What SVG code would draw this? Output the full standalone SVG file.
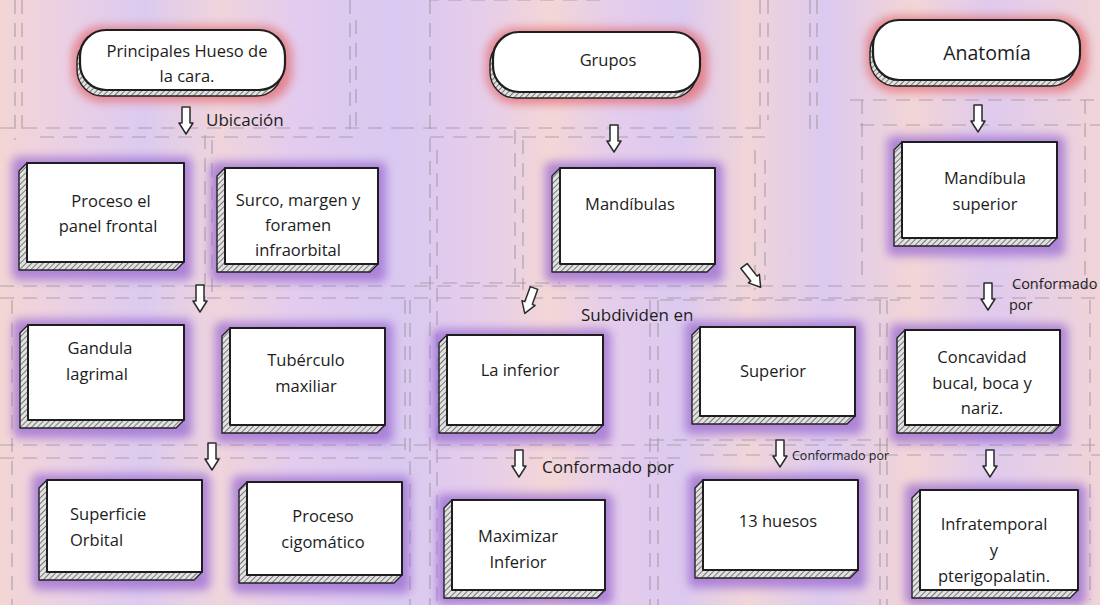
<svg xmlns="http://www.w3.org/2000/svg" xmlns:xlink="http://www.w3.org/1999/xlink" width="1100" height="605" viewBox="0 0 1100 605">
<defs>
<linearGradient id="bg" x1="0" y1="0" x2="1" y2="0">
<stop offset="0" stop-color="#f3d5d4"/>
<stop offset="0.07" stop-color="#e9cfe6"/>
<stop offset="0.13" stop-color="#dccaef"/>
<stop offset="0.2" stop-color="#efd4dc"/>
<stop offset="0.27" stop-color="#e2cbee"/>
<stop offset="0.36" stop-color="#d9c8f0"/>
<stop offset="0.44" stop-color="#e6cdea"/>
<stop offset="0.5" stop-color="#f3d6d6"/>
<stop offset="0.56" stop-color="#e4ccec"/>
<stop offset="0.62" stop-color="#dcc9ef"/>
<stop offset="0.68" stop-color="#f1d5d8"/>
<stop offset="0.75" stop-color="#dcc9ef"/>
<stop offset="0.83" stop-color="#f2d5d6"/>
<stop offset="0.9" stop-color="#dfcaee"/>
<stop offset="1" stop-color="#f0d4d8"/>
</linearGradient>
<pattern id="hatch" patternUnits="userSpaceOnUse" width="4" height="4" patternTransform="rotate(45)">
<rect width="4" height="4" fill="#e2e2e2"/>
<line x1="0" y1="0" x2="0" y2="4" stroke="#555" stroke-width="1.5"/>
</pattern>
<filter id="blur" x="-20%" y="-20%" width="140%" height="140%">
<feGaussianBlur stdDeviation="5"/>
</filter>
<path id="arr" d="M-4,0 L4,0 L4,16 L7,16 L0,27 L-7,16 L-4,16 Z"/>
<style>
.dash{stroke:#948f9a;stroke-width:1.2;stroke-dasharray:14 9;fill:none;opacity:0.7}
.glowP{fill:#9a6ad2;filter:url(#blur);opacity:0.75}
.glowR{fill:#e2666a;filter:url(#blur);opacity:0.7}
.hatch{fill:url(#hatch);stroke:#222;stroke-width:1.4;stroke-linejoin:round}
.face{fill:#ffffff;stroke:#1e1e1e;stroke-width:2;stroke-linejoin:round}
.pill{fill:#ffffff;stroke:#1e1e1e;stroke-width:2.2}
.lbl{font-family:"Open Sans","Lato","Liberation Sans",sans-serif;font-size:16.5px;fill:#1c1c1c;text-anchor:middle}
.lbl2{font-family:"Open Sans","Lato","Liberation Sans",sans-serif;font-size:16.5px;fill:#1c1c1c}
.arrow{fill:#ffffff;stroke:#2a2a2a;stroke-width:1.5;stroke-linejoin:round}
</style>
</defs>
<rect width="1100" height="605" fill="url(#bg)"/>
<g id="grid">
<path class="dash" d="M0,128 H400 M40,137 H360 M430,137 H765 M400,128 H760 M850,100 H1100 M860,125 H1100"/>
<path class="dash" d="M0,286 H1100 M0,298 H1100 M420,283 H560 M660,300 H900"/>
<path class="dash" d="M0,445 H1100 M0,458 H680 M700,455 H1100 M650,440 H880"/>
<path class="dash" d="M15,0 V140 M22,0 V130 M350,0 V135 M356,20 V130 M430,0 V605 M437,150 V605 M760,0 V130 M768,0 V120 M810,0 V130 M817,0 V130 M862,100 V280 M1085,100 V290"/>
<path class="dash" d="M515,130 V290 M523,140 V290 M755,150 V290 M765,160 V280 M205,135 V300 M212,140 V300"/>
<path class="dash" d="M12,300 V605 M405,300 V450 M410,300 V605 M650,300 V605 M658,300 V605 M880,300 V605 M887,300 V605 M1090,300 V600"/>
<path class="dash" d="M600,0 H430 M560,182 H650 M930,170 H1020 M930,490 H1020 M715,350 H790 M720,490 H790 M470,508 H560"/>
</g>
<g id="connectors">
<use xlink:href="#arr" href="#arr" class="arrow" transform="translate(186,107)"/>
<use xlink:href="#arr" href="#arr" class="arrow" transform="translate(614,125)"/>
<use xlink:href="#arr" href="#arr" class="arrow" transform="translate(978,105)"/>
<use xlink:href="#arr" href="#arr" class="arrow" transform="translate(200,285)"/>
<use xlink:href="#arr" href="#arr" class="arrow" transform="translate(534,288) rotate(20)"/>
<use xlink:href="#arr" href="#arr" class="arrow" transform="translate(744,266) rotate(-38)"/>
<use xlink:href="#arr" href="#arr" class="arrow" transform="translate(988,283)"/>
<use xlink:href="#arr" href="#arr" class="arrow" transform="translate(212,443)"/>
<use xlink:href="#arr" href="#arr" class="arrow" transform="translate(519,450)"/>
<use xlink:href="#arr" href="#arr" class="arrow" transform="translate(780,440)"/>
<use xlink:href="#arr" href="#arr" class="arrow" transform="translate(990,450)"/>
<text class="lbl2" x="206" y="126" style="font-size:17px">Ubicación</text>
<text class="lbl2" x="581" y="321" style="font-size:17px">Subdividen en</text>
<text class="lbl2" x="1012" y="289" style="font-size:14.5px">Conformado</text>
<text class="lbl2" x="1009" y="310" style="font-size:14.5px">por</text>
<text class="lbl2" x="542" y="473" style="font-size:17px">Conformado por</text>
<text class="lbl2" x="792" y="460" style="font-size:12.5px">Conformado por</text>
</g>
<g id="n-principales">
<rect class="glowR" x="72" y="26" width="220" height="76" rx="30"/>
<rect class="hatch" x="77" y="36" width="205" height="60" rx="26"/>
<rect class="pill" x="80" y="30" width="205" height="60" rx="26"/>
<text class="lbl" x="187" y="57">Principales Hueso de</text>
<text class="lbl" x="187" y="82">la cara.</text>
</g>
<g id="n-grupos">
<rect class="glowR" x="486" y="28" width="222" height="76" rx="30"/>
<rect class="hatch" x="490" y="38" width="207" height="60" rx="26"/>
<rect class="pill" x="493" y="32" width="207" height="60" rx="26"/>
<text class="lbl" x="608" y="66">Grupos</text>
</g>
<g id="n-anatomia">
<rect class="glowR" x="866" y="16" width="222" height="76" rx="30"/>
<rect class="hatch" x="870" y="26" width="207" height="60" rx="26"/>
<rect class="pill" x="873" y="20" width="207" height="60" rx="26"/>
<text class="lbl" x="987" y="60" style="font-size:19.5px">Anatomía</text>
</g>
<g id="n-proceso-frontal">
<rect class="glowP" x="12" y="157" width="180" height="123" rx="6"/>
<polygon class="hatch" points="27,163 19,171 19,270 176,270 184,262"/>
<rect class="face" x="27" y="163" width="157" height="99"/>
<text class="lbl" x="111" y="207">Proceso el</text>
<text class="lbl" x="108" y="232">panel frontal</text>
</g>
<g id="n-surco">
<rect class="glowP" x="210" y="162" width="176" height="120" rx="6"/>
<polygon class="hatch" points="225,168 217,176 217,272 370,272 378,264"/>
<rect class="face" x="225" y="168" width="153" height="96"/>
<text class="lbl" x="298" y="206">Surco, margen y</text>
<text class="lbl" x="298" y="231">foramen</text>
<text class="lbl" x="298" y="256">infraorbital</text>
</g>
<g id="n-mandibulas">
<rect class="glowP" x="545" y="162" width="178" height="120" rx="6"/>
<polygon class="hatch" points="560,168 552,176 552,272 707,272 715,264"/>
<rect class="face" x="560" y="168" width="155" height="96"/>
<text class="lbl" x="630" y="210">Mandíbulas</text>
</g>
<g id="n-mandibula-superior">
<rect class="glowP" x="887" y="136" width="178" height="120" rx="6"/>
<polygon class="hatch" points="902,142 894,150 894,246 1049,246 1057,238"/>
<rect class="face" x="902" y="142" width="155" height="96"/>
<text class="lbl" x="985" y="184">Mandíbula</text>
<text class="lbl" x="985" y="210">superior</text>
</g>
<g id="n-gandula">
<rect class="glowP" x="13" y="319" width="179" height="119" rx="6"/>
<polygon class="hatch" points="28,325 20,333 20,428 176,428 184,420"/>
<rect class="face" x="28" y="325" width="156" height="95"/>
<text class="lbl" x="100" y="354">Gandula</text>
<text class="lbl" x="97" y="380">lagrimal</text>
</g>
<g id="n-tuberculo">
<rect class="glowP" x="215" y="322" width="178" height="121" rx="6"/>
<polygon class="hatch" points="230,328 222,336 222,433 377,433 385,425"/>
<rect class="face" x="230" y="328" width="155" height="97"/>
<text class="lbl" x="306" y="366">Tubérculo</text>
<text class="lbl" x="306" y="392">maxiliar</text>
</g>
<g id="n-la-inferior">
<rect class="glowP" x="432" y="329" width="179" height="114" rx="6"/>
<polygon class="hatch" points="447,335 439,343 439,433 595,433 603,425"/>
<rect class="face" x="447" y="335" width="156" height="90"/>
<text class="lbl" x="520" y="376">La inferior</text>
</g>
<g id="n-superior">
<rect class="glowP" x="685" y="321" width="178" height="113" rx="6"/>
<polygon class="hatch" points="700,327 692,335 692,424 847,424 855,416"/>
<rect class="face" x="700" y="327" width="155" height="89"/>
<text class="lbl" x="773" y="377">Superior</text>
</g>
<g id="n-concavidad">
<rect class="glowP" x="890" y="324" width="178" height="119" rx="6"/>
<polygon class="hatch" points="905,330 897,338 897,433 1052,433 1060,425"/>
<rect class="face" x="905" y="330" width="155" height="95"/>
<text class="lbl" x="982" y="363">Concavidad</text>
<text class="lbl" x="982" y="389">bucal, boca y</text>
<text class="lbl" x="982" y="414">nariz.</text>
</g>
<g id="n-superficie">
<rect class="glowP" x="32" y="474" width="178" height="116" rx="6"/>
<polygon class="hatch" points="47,480 39,488 39,580 194,580 202,572"/>
<rect class="face" x="47" y="480" width="155" height="92"/>
<text class="lbl2" x="70" y="520">Superficie</text>
<text class="lbl2" x="70" y="546">Orbital</text>
</g>
<g id="n-proceso-cigomatico">
<rect class="glowP" x="232" y="476" width="178" height="117" rx="6"/>
<polygon class="hatch" points="247,482 239,490 239,583 394,583 402,575"/>
<rect class="face" x="247" y="482" width="155" height="93"/>
<text class="lbl" x="323" y="522">Proceso</text>
<text class="lbl" x="323" y="548">cigomático</text>
</g>
<g id="n-maximizar">
<rect class="glowP" x="437" y="494" width="176" height="111" rx="6"/>
<polygon class="hatch" points="452,500 444,508 444,598 597,598 605,590"/>
<rect class="face" x="452" y="500" width="153" height="90"/>
<text class="lbl" x="518" y="542">Maximizar</text>
<text class="lbl" x="518" y="568">Inferior</text>
</g>
<g id="n-13-huesos">
<rect class="glowP" x="688" y="474" width="178" height="114" rx="6"/>
<polygon class="hatch" points="703,480 695,488 695,578 850,578 858,570"/>
<rect class="face" x="703" y="480" width="155" height="90"/>
<text class="lbl" x="778" y="527">13 huesos</text>
</g>
<g id="n-infratemporal">
<rect class="glowP" x="905" y="484" width="181" height="121" rx="6"/>
<polygon class="hatch" points="920,490 912,498 912,598 1070,598 1078,590"/>
<rect class="face" x="920" y="490" width="158" height="100"/>
<text class="lbl" x="994" y="530">Infratemporal</text>
<text class="lbl" x="994" y="556">y</text>
<text class="lbl" x="994" y="582">pterigopalatin.</text>
</g>
</svg>
